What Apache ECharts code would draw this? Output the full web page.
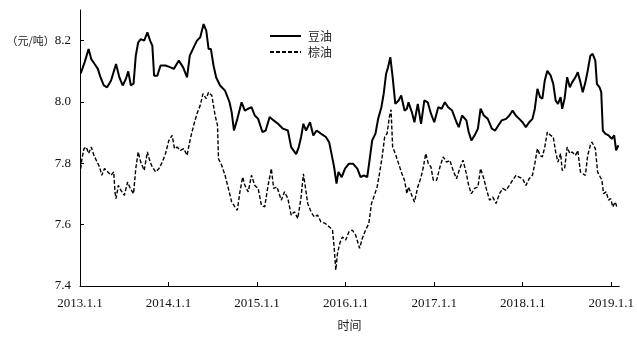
<!DOCTYPE html>
<html>
<head>
<meta charset="utf-8">
<script src="https://cdn.jsdelivr.net/npm/echarts@6/dist/echarts.min.js"></script>
<style>html,body{margin:0;padding:0;background:#fff;}#c{width:637px;height:338px;}</style>
</head>
<body>
<div id="c"></div>
<script>
// Time as decimal years
const soyT = [2013.008,2013.053,2013.097,2013.127,2013.165,2013.202,2013.232,2013.269,2013.306,2013.351,2013.407,2013.445,2013.482,2013.518,2013.545,2013.574,2013.605,2013.630,2013.657,2013.686,2013.725,2013.761,2013.792,2013.817,2013.837,2013.873,2013.910,2013.966,2014.022,2014.060,2014.116,2014.165,2014.209,2014.240,2014.284,2014.321,2014.358,2014.396,2014.426,2014.452,2014.478,2014.508,2014.538,2014.582,2014.638,2014.688,2014.713,2014.739,2014.777,2014.825,2014.862,2014.900,2014.937,2014.974,2015.012,2015.060,2015.097,2015.142,2015.187,2015.236,2015.292,2015.348,2015.385,2015.441,2015.471,2015.497,2015.523,2015.553,2015.598,2015.635,2015.673,2015.721,2015.777,2015.814,2015.844,2015.870,2015.897,2015.919,2015.956,2015.993,2016.038,2016.083,2016.132,2016.169,2016.206,2016.244,2016.270,2016.300,2016.337,2016.367,2016.404,2016.430,2016.457,2016.479,2016.505,2016.531,2016.561,2016.598,2016.628,2016.665,2016.692,2016.710,2016.748,2016.777,2016.815,2016.852,2016.889,2016.927,2016.964,2017.001,2017.046,2017.084,2017.121,2017.158,2017.203,2017.252,2017.278,2017.315,2017.364,2017.390,2017.420,2017.457,2017.494,2017.524,2017.561,2017.606,2017.651,2017.689,2017.726,2017.763,2017.812,2017.849,2017.886,2017.924,2017.961,2017.998,2018.036,2018.073,2018.110,2018.137,2018.166,2018.196,2018.222,2018.249,2018.278,2018.316,2018.345,2018.372,2018.398,2018.428,2018.446,2018.473,2018.502,2018.532,2018.558,2018.596,2018.622,2018.652,2018.678,2018.708,2018.734,2018.764,2018.790,2018.820,2018.838,2018.868,2018.887,2018.905,2018.932,2018.969,2019.006,2019.033,2019.055,2019.081];
const soyV = [8.093,8.13,8.173,8.14,8.124,8.108,8.08,8.054,8.048,8.07,8.124,8.08,8.054,8.075,8.10,8.054,8.06,8.151,8.194,8.205,8.20,8.227,8.20,8.184,8.086,8.086,8.119,8.119,8.113,8.108,8.135,8.113,8.08,8.151,8.178,8.20,8.211,8.254,8.233,8.173,8.173,8.119,8.08,8.054,8.037,8.0,7.967,7.907,7.945,7.999,7.972,7.978,7.983,7.956,7.945,7.902,7.907,7.951,7.940,7.929,7.913,7.907,7.853,7.83,7.853,7.886,7.929,7.907,7.934,7.891,7.907,7.897,7.886,7.869,7.826,7.788,7.734,7.772,7.755,7.783,7.799,7.799,7.783,7.755,7.761,7.755,7.81,7.875,7.897,7.945,7.983,8.027,8.092,8.113,8.146,8.081,7.994,8.005,8.021,7.972,7.978,7.999,7.967,7.934,7.994,7.929,8.005,7.999,7.962,7.934,7.983,7.978,7.999,7.983,7.972,7.934,7.918,7.956,7.94,7.902,7.875,7.891,7.913,7.978,7.956,7.945,7.913,7.907,7.924,7.94,7.945,7.956,7.972,7.955,7.945,7.934,7.918,7.934,7.945,7.978,8.043,8.016,8.011,8.07,8.102,8.086,8.059,8.005,7.994,8.016,7.978,8.011,8.081,8.048,8.064,8.081,8.097,8.064,8.032,8.064,8.102,8.151,8.157,8.135,8.059,8.048,8.032,7.907,7.897,7.891,7.88,7.891,7.842,7.859];
const palmT = [2013.008,2013.022,2013.045,2013.071,2013.097,2013.127,2013.157,2013.194,2013.221,2013.246,2013.277,2013.314,2013.351,2013.381,2013.395,2013.407,2013.433,2013.462,2013.501,2013.538,2013.568,2013.605,2013.630,2013.657,2013.686,2013.725,2013.761,2013.792,2013.817,2013.854,2013.892,2013.929,2013.966,2014.004,2014.041,2014.067,2014.097,2014.134,2014.172,2014.209,2014.246,2014.284,2014.321,2014.358,2014.389,2014.426,2014.452,2014.489,2014.526,2014.553,2014.564,2014.601,2014.638,2014.676,2014.713,2014.750,2014.777,2014.806,2014.837,2014.862,2014.900,2014.937,2014.974,2015.012,2015.049,2015.086,2015.124,2015.161,2015.187,2015.225,2015.273,2015.310,2015.348,2015.385,2015.422,2015.460,2015.497,2015.523,2015.545,2015.572,2015.609,2015.646,2015.684,2015.721,2015.769,2015.814,2015.852,2015.870,2015.889,2015.908,2015.934,2015.964,2016.001,2016.038,2016.076,2016.113,2016.158,2016.188,2016.225,2016.262,2016.292,2016.318,2016.356,2016.382,2016.412,2016.441,2016.468,2016.494,2016.513,2016.531,2016.561,2016.598,2016.636,2016.665,2016.692,2016.710,2016.740,2016.777,2016.815,2016.852,2016.878,2016.905,2016.934,2016.964,2016.990,2017.028,2017.065,2017.102,2017.140,2017.177,2017.214,2017.252,2017.289,2017.326,2017.364,2017.390,2017.420,2017.457,2017.494,2017.524,2017.561,2017.588,2017.625,2017.662,2017.700,2017.737,2017.774,2017.812,2017.849,2017.886,2017.924,2017.961,2017.998,2018.036,2018.073,2018.110,2018.137,2018.166,2018.196,2018.222,2018.249,2018.278,2018.316,2018.345,2018.372,2018.398,2018.428,2018.446,2018.473,2018.502,2018.532,2018.558,2018.596,2018.622,2018.652,2018.678,2018.708,2018.734,2018.764,2018.782,2018.820,2018.846,2018.868,2018.894,2018.913,2018.943,2018.969,2018.994,2019.017,2019.044,2019.069];
const palmV = [7.783,7.815,7.848,7.853,7.832,7.853,7.826,7.804,7.788,7.761,7.783,7.772,7.761,7.772,7.707,7.685,7.728,7.712,7.696,7.739,7.718,7.701,7.783,7.837,7.804,7.777,7.837,7.804,7.788,7.772,7.783,7.804,7.832,7.875,7.891,7.848,7.853,7.842,7.848,7.826,7.880,7.924,7.962,7.989,8.027,8.011,8.032,8.021,7.956,7.924,7.815,7.793,7.761,7.718,7.674,7.658,7.647,7.707,7.755,7.728,7.707,7.761,7.728,7.718,7.663,7.658,7.728,7.783,7.718,7.723,7.680,7.707,7.685,7.631,7.642,7.62,7.69,7.766,7.723,7.669,7.642,7.625,7.631,7.609,7.604,7.593,7.582,7.528,7.452,7.506,7.539,7.560,7.550,7.577,7.582,7.566,7.523,7.555,7.582,7.604,7.669,7.690,7.723,7.766,7.820,7.886,7.897,7.951,7.975,7.853,7.832,7.799,7.766,7.745,7.701,7.723,7.701,7.674,7.723,7.755,7.788,7.832,7.799,7.788,7.745,7.745,7.788,7.821,7.804,7.81,7.777,7.750,7.783,7.81,7.766,7.728,7.701,7.718,7.723,7.783,7.750,7.718,7.680,7.690,7.669,7.701,7.718,7.712,7.728,7.745,7.761,7.755,7.750,7.728,7.750,7.761,7.799,7.848,7.826,7.821,7.853,7.902,7.891,7.886,7.837,7.804,7.832,7.777,7.783,7.853,7.832,7.837,7.826,7.842,7.772,7.766,7.761,7.826,7.859,7.869,7.848,7.772,7.766,7.745,7.701,7.707,7.680,7.685,7.658,7.674,7.653];
const seriesNames = ['豆油', '棕油'];
const xTicks = [2013, 2014, 2015, 2016, 2017, 2018, 2019];
const yTicks = [7.4, 7.6, 7.8, 8.0, 8.2];
const yUnit = '（元/吨）';
const xName = '时间';

const pair = (t, v) => t.map((x, i) => [x, v[i]]);
const serif = '"Liberation Serif", "Times New Roman", "Noto Sans CJK SC", serif';

const chart = echarts.init(document.getElementById('c'), null, {renderer: 'canvas'});
chart.setOption({
  animation: false,
  backgroundColor: '#fff',
  grid: {left: 80, right: 14, top: 10, bottom: 52, containLabel: false},
  legend: {
    orient: 'vertical', left: 264, top: 25,
    itemWidth: 31, itemHeight: 12, itemGap: 4,
    itemStyle: {opacity: 0},
    textStyle: {fontFamily: '"Noto Sans CJK SC", sans-serif', fontSize: 12, color: '#222', padding: [0, 0, 0, 2]},
    data: seriesNames
  },
  xAxis: {
    type: 'value', min: 2013, max: 2019.09, interval: 1,
    name: xName, nameLocation: 'middle', nameGap: 33,
    nameTextStyle: {fontFamily: '"Noto Sans CJK SC", sans-serif', fontSize: 12, color: '#222'},
    axisLine: {lineStyle: {color: '#000', width: 1}},
    axisTick: {inside: true, length: 4, customValues: xTicks, lineStyle: {color: '#000'}},
    axisLabel: {customValues: xTicks, margin: 11, fontFamily: serif, fontSize: 13, color: '#111',
      formatter: v => Math.round(v) + '.1.1'},
    splitLine: {show: false}
  },
  yAxis: {
    type: 'value', min: 7.4, max: 8.3, interval: 0.2,
    axisLine: {show: true, lineStyle: {color: '#000', width: 1}},
    axisTick: {show: true, inside: true, length: 4, customValues: yTicks, lineStyle: {color: '#000'}},
    axisLabel: {customValues: yTicks, margin: 9, fontFamily: serif, fontSize: 13, color: '#111',
      formatter: v => (Math.abs(v - 8.2) < 1e-6 ? '{u|' + yUnit + '}' : '') + v.toFixed(1),
      rich: {u: {fontFamily: '"Noto Sans CJK SC", sans-serif', fontSize: 11, color: '#222'}}},
    splitLine: {show: false}
  },
  series: [
    {name: seriesNames[0], type: 'line', data: pair(soyT, soyV), symbol: 'none', showSymbol: false,
     lineStyle: {color: '#000', width: 2}, itemStyle: {color: '#000'}},
    {name: seriesNames[1], type: 'line', data: pair(palmT, palmV), symbol: 'none', showSymbol: false,
     lineStyle: {color: '#000', width: 1.4, type: [4, 2]}, itemStyle: {color: '#000'}}
  ]
});
</script>
</body>
</html>
